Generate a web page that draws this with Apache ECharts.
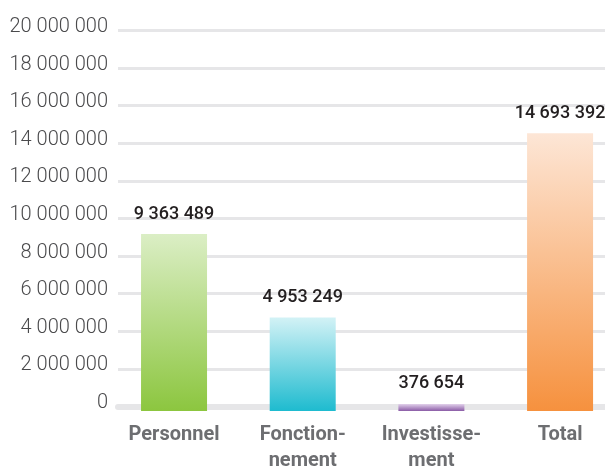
<!DOCTYPE html>
<html><head><meta charset="utf-8">
<script src="https://cdn.jsdelivr.net/npm/echarts@6/dist/echarts.min.js"></script>
<style>html,body{margin:0;padding:0;background:#fff}#c{width:605px;height:469px}</style>
</head><body><div id="c"></div>
<script>
const categories = ['Personnel', 'Fonction-\nnement', 'Investisse-\nment', 'Total'];
const values = [9363489, 4953249, 376654, 14693392];
const yTicks = [0, 2000000, 4000000, 6000000, 8000000, 10000000, 12000000, 14000000, 16000000, 18000000, 20000000];
const colorStops = [['#dbeec5', '#8cc63f'], ['#d3f2f6', '#1ebbcf'], ['#e3d3ec', '#8a5ba6'], ['#fde6d6', '#f6913e']];

const FONT = 'Roboto, sans-serif';
const fmt = v => String(v).replace(/\B(?=(\d{3})+(?!\d))/g, ' ');

const chart = echarts.init(document.getElementById('c'), null, {renderer: 'canvas'});
chart.setOption({
  animation: false,
  grid: [
    {left: 118, width: 487, top: 30.5, height: 376, outerBoundsMode: 'none', containLabel: false},
    {left: 109.7, width: 514.7, top: 33, height: 378, outerBoundsMode: 'none', containLabel: false}
  ],
  xAxis: [
    {gridIndex: 0, type: 'category', data: categories, show: true,
     axisLine: {show: true, lineStyle: {color: '#e6e6e8', width: 6}}, offset: 1.5,
     axisTick: {show: false}, axisLabel: {show: false}},
    {gridIndex: 1, type: 'category', data: categories,
     axisLine: {show: false}, axisTick: {show: false},
     axisLabel: {interval: 0, hideOverlap: false, color: '#6d6e71', fontFamily: FONT, fontWeight: 'bold', fontSize: 20, lineHeight: 26, margin: 11}}
  ],
  yAxis: [
    {gridIndex: 0, type: 'value', min: yTicks[0], max: yTicks[yTicks.length - 1], interval: yTicks[1] - yTicks[0],
     axisLine: {show: false}, axisTick: {show: false},
     splitLine: {lineStyle: {color: '#e6e6e8', width: 3}},
     axisLabel: {color: '#4a4a4c', fontFamily: FONT, fontSize: 20, fontWeight: 300, margin: 10, verticalAlign: 'bottom', lineHeight: 7,
       formatter: v => fmt(v)}},
    {gridIndex: 1, type: 'value', min: yTicks[0], max: yTicks[yTicks.length - 1], show: false, splitLine: {show: false}}
  ],
  series: [{
    type: 'bar', xAxisIndex: 1, yAxisIndex: 1, barWidth: 66,
    data: values.map((v, i) => ({
      value: v,
      itemStyle: {color: new echarts.graphic.LinearGradient(0, 0, 0, 1, [
        {offset: 0, color: colorStops[i][0]}, {offset: 1, color: colorStops[i][1]}])}
    })),
    label: {show: true, position: 'top', distance: 11, color: '#231f20', fontFamily: FONT, fontSize: 18, fontWeight: 500,
      formatter: p => fmt(p.value)}
  }]
});
</script></body></html>
